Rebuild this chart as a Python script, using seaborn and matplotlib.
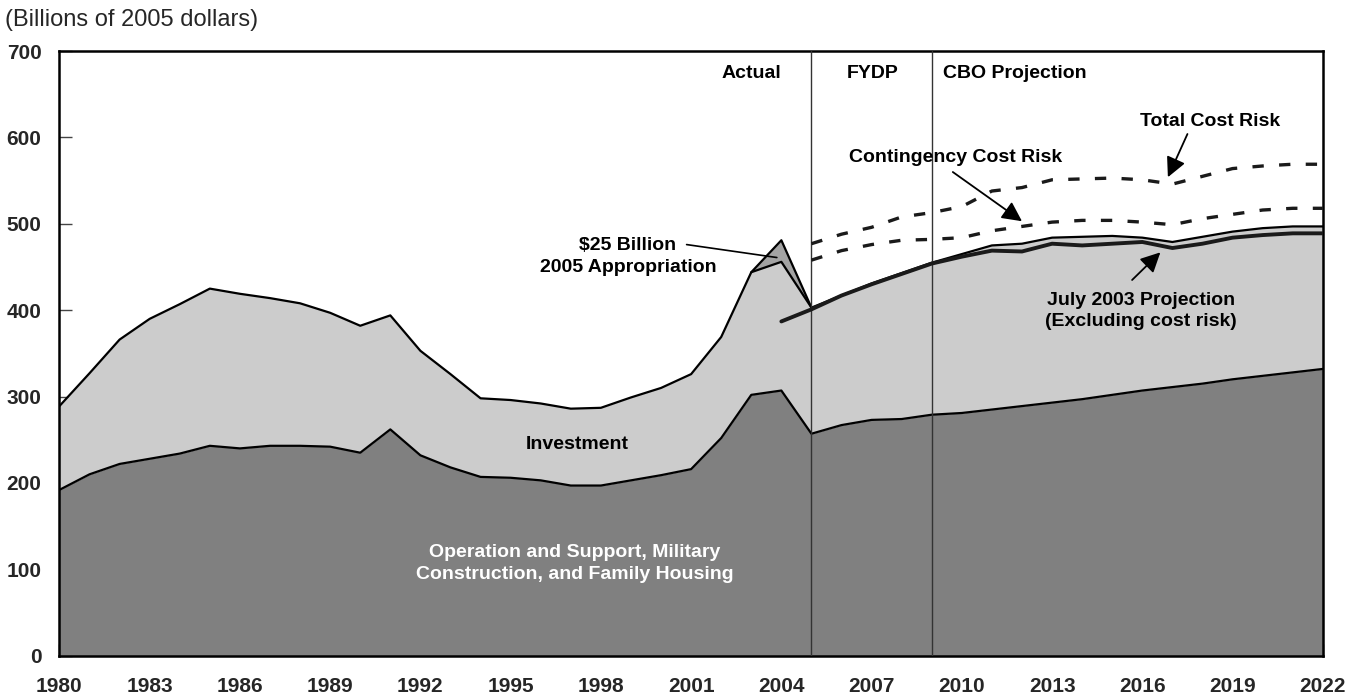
import matplotlib
matplotlib.use("Agg")
import matplotlib.pyplot as plt
import seaborn as sns

# Defense budget: actual, FYDP and CBO projection (billions of 2005 dollars)
years = list(range(1980, 2023))
os_vals = [192, 210, 222, 228, 234, 243, 240, 243, 243, 242,
           235, 262, 232, 218, 207, 206, 203, 197, 197, 203,
           209, 216, 252, 302, 307, 257, 267, 273, 274, 279,
           281, 285, 289, 293, 297, 302, 307, 311, 315, 320,
           324, 328, 332]
total_vals = [289, 327, 366, 390, 407, 425, 419, 414, 408, 397,
              382, 394, 353, 326, 298, 296, 292, 286, 287, 299,
              310, 326, 369, 444, 456, 403, 417, 431, 443, 455,
              465, 475, 477, 484, 485, 486, 484, 479, 485, 491,
              495, 497, 497]

# $25 billion 2005 appropriation
supp_years = [2003, 2004, 2005]
supp_top = [444, 481, 403]

# July 2003 projection (excluding cost risk)
jul03_years = list(range(2004, 2023))
jul03_vals = [387, 401, 417, 430, 442, 454, 462, 469, 468, 477,
              475, 477, 479, 472, 477, 484, 487, 489, 489]

# cost risk lines
risk_years = list(range(2005, 2023))
contingency_vals = [458, 469, 476, 481, 482, 484, 492, 497, 502, 504,
                    504, 502, 499, 506, 511, 516, 518, 518]
total_risk_vals = [477, 488, 496, 508, 513, 520, 538, 542, 551, 552,
                   553, 551, 546, 555, 564, 567, 569, 569]

x_ticks = list(range(1980, 2023, 3))
y_ticks = list(range(0, 701, 100))

sns.set_style("white")
plt.rcParams['font.family'] = ['Liberation Sans', 'DejaVu Sans']

fig = plt.figure(figsize=(13.57, 7), dpi=100)
ax = fig.add_axes([0.0438, 0.0633, 0.931, 0.8637])

# stacked areas
ax.fill_between(years, 0, os_vals, color='#808080', lw=0)
ax.fill_between(years, os_vals, total_vals, color='#cccccc', lw=0)
i0 = years.index(2003)
ax.fill_between(supp_years, total_vals[i0:i0 + 3], supp_top, color='#a3a3a3', lw=0)

sns.lineplot(x=years, y=os_vals, color='black', lw=1.6, ax=ax)
sns.lineplot(x=years, y=total_vals, color='black', lw=1.6, ax=ax)
sns.lineplot(x=supp_years, y=supp_top, color='black', lw=1.6, ax=ax)

# period dividers
for yr in [2005, 2009]:
    ax.axvline(yr, color='#333333', lw=1, zorder=3)

sns.lineplot(x=jul03_years, y=jul03_vals, color='#1a1a1a', lw=2.8, ax=ax, zorder=4)
sns.lineplot(x=risk_years, y=contingency_vals, color='#1a1a1a', lw=2.4,
             linestyle=(0, (3.4, 4.6)), ax=ax, zorder=4)
sns.lineplot(x=risk_years, y=total_risk_vals, color='#1a1a1a', lw=2.4,
             linestyle=(0, (3.4, 4.6)), ax=ax, zorder=4)

ax.set_xlim(1980, 2022)
ax.set_ylim(0, 700)
ax.set_xticks(x_ticks)
ax.set_yticks(y_ticks)
tick_font = dict(weight='bold', size=15)
ax.set_xticklabels([str(t) for t in x_ticks], fontdict=tick_font)
ax.set_yticklabels([str(t) for t in y_ticks], fontdict=tick_font)
ax.tick_params(axis='x', direction='in', length=9, width=1, color='#444444', pad=15,
               bottom=True)
ax.tick_params(axis='y', direction='in', length=9, width=1, color='#444444', pad=13,
               left=True)
for sp in ax.spines.values():
    sp.set_visible(True)
    sp.set_color('black')
    sp.set_linewidth(1.8)
ax.set_xlabel('')
ax.set_ylabel('')

fig.text(0.004, 0.971, '(Billions of 2005 dollars)', fontsize=17, ha='left', va='center')

lbl = dict(fontsize=14, weight='bold', color='black')
ax.text(2003.0, 674, 'Actual', ha='center', va='center', **lbl)
ax.text(2007.05, 674, 'FYDP', ha='center', va='center', **lbl)
ax.text(2011.76, 674, 'CBO Projection', ha='center', va='center', **lbl)
ax.text(1997.2, 244, 'Investment', ha='center', va='center', **lbl)
ax.text(1997.14, 107, 'Operation and Support, Military\nConstruction, and Family Housing',
        ha='center', va='center', fontsize=14, weight='bold', color='white', linespacing=1.35)

ax.text(1998.9, 462, '$25 Billion\n2005 Appropriation', ha='center', va='center',
        linespacing=1.35, **lbl)
ax.annotate('', xy=(2003.85, 461), xytext=(2000.85, 476),
            arrowprops=dict(arrowstyle='-', color='black', lw=1.2, shrinkA=0, shrinkB=0))

arrow = dict(arrowstyle='-|>', color='black', lw=1.3, mutation_scale=30,
             shrinkA=0, shrinkB=0)
ax.annotate('', xy=(2012.0, 503), xytext=(2009.7, 560), arrowprops=arrow)
ax.text(2009.78, 577, 'Contingency Cost Risk', ha='center', va='center', **lbl)
ax.annotate('', xy=(2016.85, 554), xytext=(2017.5, 604), arrowprops=arrow)
ax.text(2018.25, 619, 'Total Cost Risk', ha='center', va='center', **lbl)
ax.annotate('', xy=(2016.6, 467), xytext=(2015.66, 435), arrowprops=arrow)
ax.text(2015.96, 399, 'July 2003 Projection\n(Excluding cost risk)', ha='center', va='center',
        linespacing=1.35, **lbl)

fig.savefig('out.png', dpi=100)
